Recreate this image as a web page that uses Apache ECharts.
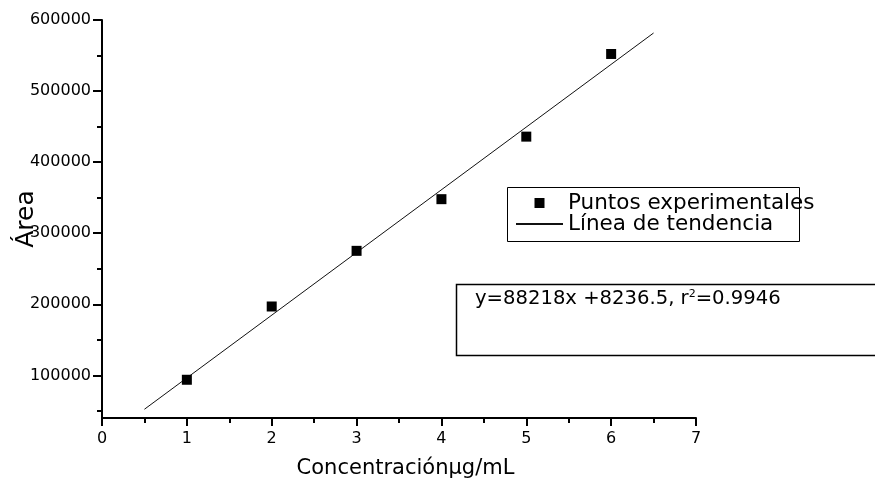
<!DOCTYPE html>
<html><head><meta charset="utf-8">
<script src="https://cdn.jsdelivr.net/npm/echarts@6/dist/echarts.min.js"></script>
<style>html,body{margin:0;padding:0;background:#fff}#c{width:875px;height:482px}</style>
</head><body><div id="c"></div>
<script>
const concentrations = [1, 2, 3, 4, 5, 6];
const areas = [93800, 196900, 275200, 347900, 435900, 552200];
const trendX = [0.5, 6.5];
const trendY = [52300, 581700];
const xTicks = [0, 1, 2, 3, 4, 5, 6, 7];
const yMajorTicks = [100000, 200000, 300000, 400000, 500000, 600000];
const yMinorTicks = [50000, 150000, 250000, 350000, 450000, 550000];
const seriesNames = ['Puntos experimentales', 'Línea de tendencia'];
const xTitle = 'Concentraciónµg/mL';
const yTitle = 'Área';
const equationMain = 'y=88218x +8236.5, r';
const equationSup = '2';
const equationTail = '=0.9946';

const FF = 'DejaVu Sans';
const chart = echarts.init(document.getElementById('c'), null, {renderer: 'canvas'});
const axisLine = {show: true, lineStyle: {color: '#000', width: 2}};
chart.setOption({
  animation: false,
  backgroundColor: '#fff',
  textStyle: {fontFamily: FF, color: '#000'},
  grid: {left: 102, right: 179, top: 20, bottom: 64, containLabel: false, outerBoundsMode: 'none'},
  xAxis: {
    type: 'value', min: xTicks[0], max: xTicks[xTicks.length - 1], interval: 1,
    axisLine: axisLine,
    axisTick: {show: true, inside: false, length: 8, lineStyle: {color: '#000', width: 2}},
    minorTick: {show: true, splitNumber: 2, length: 5, lineStyle: {color: '#000', width: 2}},
    axisLabel: {show: true, margin: 13, fontSize: 16, fontFamily: FF, color: '#000',
      formatter: v => String(v)},
    splitLine: {show: false},
    name: xTitle, nameLocation: 'middle', nameGap: 40, nameMoveOverlap: false,
    nameTextStyle: {fontSize: 21, fontFamily: FF, color: '#000', padding: [0, 0, 0, 13]}
  },
  yAxis: [{
    type: 'value', min: 40000, max: 600000,
    axisLine: axisLine,
    axisTick: {show: true, inside: false, length: 9, customValues: yMajorTicks, lineStyle: {color: '#000', width: 2}},
    axisLabel: {show: true, margin: 11, fontSize: 16, fontFamily: FF, color: '#000', customValues: yMajorTicks,
      formatter: v => String(v)},
    splitLine: {show: false},
    name: yTitle, nameLocation: 'middle', nameGap: 63, nameRotate: 90, nameMoveOverlap: false,
    nameTextStyle: {fontSize: 25, fontFamily: FF, color: '#000'}
  }, {
    type: 'value', min: 40000, max: 600000, position: 'left',
    axisLine: {show: false},
    axisTick: {show: true, inside: false, length: 5, customValues: yMinorTicks, lineStyle: {color: '#000', width: 2}},
    axisLabel: {show: false},
    splitLine: {show: false}
  }],
  legend: {
    orient: 'vertical', left: 515, top: 192, padding: 0, itemGap: -1,
    itemWidth: 47, itemHeight: 10, symbolKeepAspect: true,
    textStyle: {fontSize: 21.5, fontFamily: FF, color: '#000'},
    data: [
      {name: seriesNames[0], icon: 'path://M0,0h10v10h-10z', itemStyle: {color: '#000', opacity: 1}},
      {name: seriesNames[1], itemStyle: {opacity: 0}}
    ]
  },
  series: [{
    name: seriesNames[0], type: 'scatter', symbol: 'rect', symbolSize: 10,
    itemStyle: {color: '#000', opacity: 1},
    data: concentrations.map((x, i) => [x, areas[i]])
  }, {
    name: seriesNames[1], type: 'line', symbol: 'none', showSymbol: false,
    lineStyle: {color: '#111', width: 1}, itemStyle: {color: '#111'},
    data: trendX.map((x, i) => [x, trendY[i]]), z: 1
  }],
  graphic: [
    {type: 'rect', left: 505, top: 185, shape: {width: 292, height: 54},
     style: {fill: 'none', stroke: '#000', lineWidth: 1}, silent: true},
    {type: 'rect', left: 454, top: 282, shape: {width: 440, height: 71},
     style: {fill: 'none', stroke: '#000', lineWidth: 1.5}, silent: true},
    {type: 'text', left: 475, top: 289,
     style: {text: equationMain + '{sup|' + equationSup + '}' + equationTail,
       fontSize: 19.6, fontFamily: FF, fill: '#000',
       rich: {sup: {fontSize: 11, fontFamily: FF, verticalAlign: 'top'}}}}
  ]
});
</script></body></html>
